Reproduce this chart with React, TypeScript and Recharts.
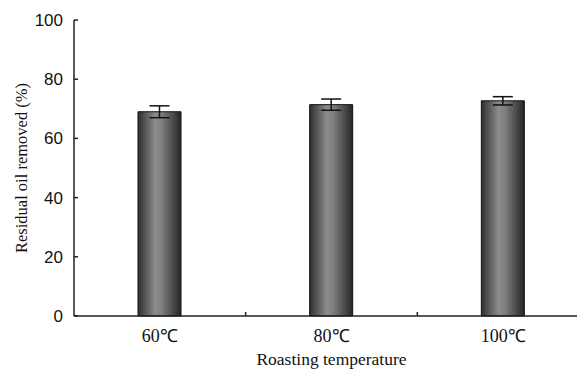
import React from "react";
import { BarChart, Bar, XAxis, YAxis, ErrorBar } from "recharts";

const temperatures = ["60℃", "80℃", "100℃"];
const removed = [69.0, 71.4, 72.7];
const errors = [2.0, 1.9, 1.4];
const yTicks = [0, 20, 40, 60, 80, 100];

const data = temperatures.map((t, i) => ({
  name: t,
  value: removed[i],
  err: errors[i],
}));

const serif = "'Liberation Serif', 'Times New Roman', serif";
const sans = "'Liberation Sans', Arial, sans-serif";
const ink = "#111";

const Y_MARGIN = 11;
const X_MARGIN = 13;
const TICK = 4;

// y ticks point into the plot, so the line is drawn here by hand
const YTick = (props: any) => {
  const { x, y, payload } = props;
  const ax = x + Y_MARGIN;
  return (
    <g>
      <line x1={ax} x2={ax + TICK} y1={y} y2={y} stroke="#222" strokeWidth={1.5} />
      <text x={x} y={y} dy="0.35em" textAnchor="end" fill={ink} fontSize={17} fontFamily={sans}>
        {payload.value}
      </text>
    </g>
  );
};

// category label plus a small upward tick on the band boundary to its right
const XTick = (props: any) => {
  const { x, y, payload, index, width, visibleTicksCount } = props;
  const ay = y - X_MARGIN;
  const half = width / visibleTicksCount / 2;
  return (
    <g>
      {index < visibleTicksCount - 1 && (
        <line
          x1={x + half}
          x2={x + half}
          y1={ay}
          y2={ay - TICK}
          stroke="#222"
          strokeWidth={1.5}
        />
      )}
      <text x={x} y={y} dy="0.71em" textAnchor="middle" fill={ink} fontSize={18} fontFamily={serif}>
        {payload.value}
      </text>
    </g>
  );
};

export default function App() {
  return (
    <div
      style={{
        position: "absolute",
        left: 0,
        top: 0,
        width: 577,
        height: 370,
        overflow: "hidden",
        background: "#fff",
      }}
    >
      <BarChart
        width={600}
        height={370}
        data={data}
        margin={{ top: 20, right: 11, left: 0, bottom: 0 }}
        barSize={43}
      >
        <defs>
          <linearGradient id="barShade" x1="0" y1="0" x2="1" y2="0">
            <stop offset="0%" stopColor="#2e2e2e" />
            <stop offset="40%" stopColor="#8c8c8c" />
            <stop offset="55%" stopColor="#7e7e7e" />
            <stop offset="100%" stopColor="#262626" />
          </linearGradient>
        </defs>
        <XAxis
          dataKey="name"
          tickLine={false}
          tickSize={0}
          axisLine={{ stroke: "#222", strokeWidth: 1.5 }}
          height={54}
          tickMargin={X_MARGIN}
          interval={0}
          tick={<XTick />}
          label={{
            value: "Roasting temperature",
            position: "insideBottom",
            offset: 5,
            fill: ink,
            fontSize: 17.5,
            fontFamily: serif,
          }}
        />
        <YAxis
          domain={[0, 100]}
          ticks={yTicks}
          width={74}
          tickSize={0}
          tickMargin={Y_MARGIN}
          tickLine={false}
          axisLine={{ stroke: "#222", strokeWidth: 1.5 }}
          tick={<YTick />}
          label={{
            value: "Residual oil removed (%)",
            angle: -90,
            position: "insideLeft",
            offset: 21,
            style: { textAnchor: "middle" },
            fill: ink,
            fontSize: 16.5,
            fontFamily: serif,
          }}
        />
        <Bar
          dataKey="value"
          fill="url(#barShade)"
          stroke={ink}
          strokeWidth={1}
          isAnimationActive={false}
        >
          <ErrorBar dataKey="err" width={10} stroke={ink} strokeWidth={1.5} />
        </Bar>
      </BarChart>
    </div>
  );
}
